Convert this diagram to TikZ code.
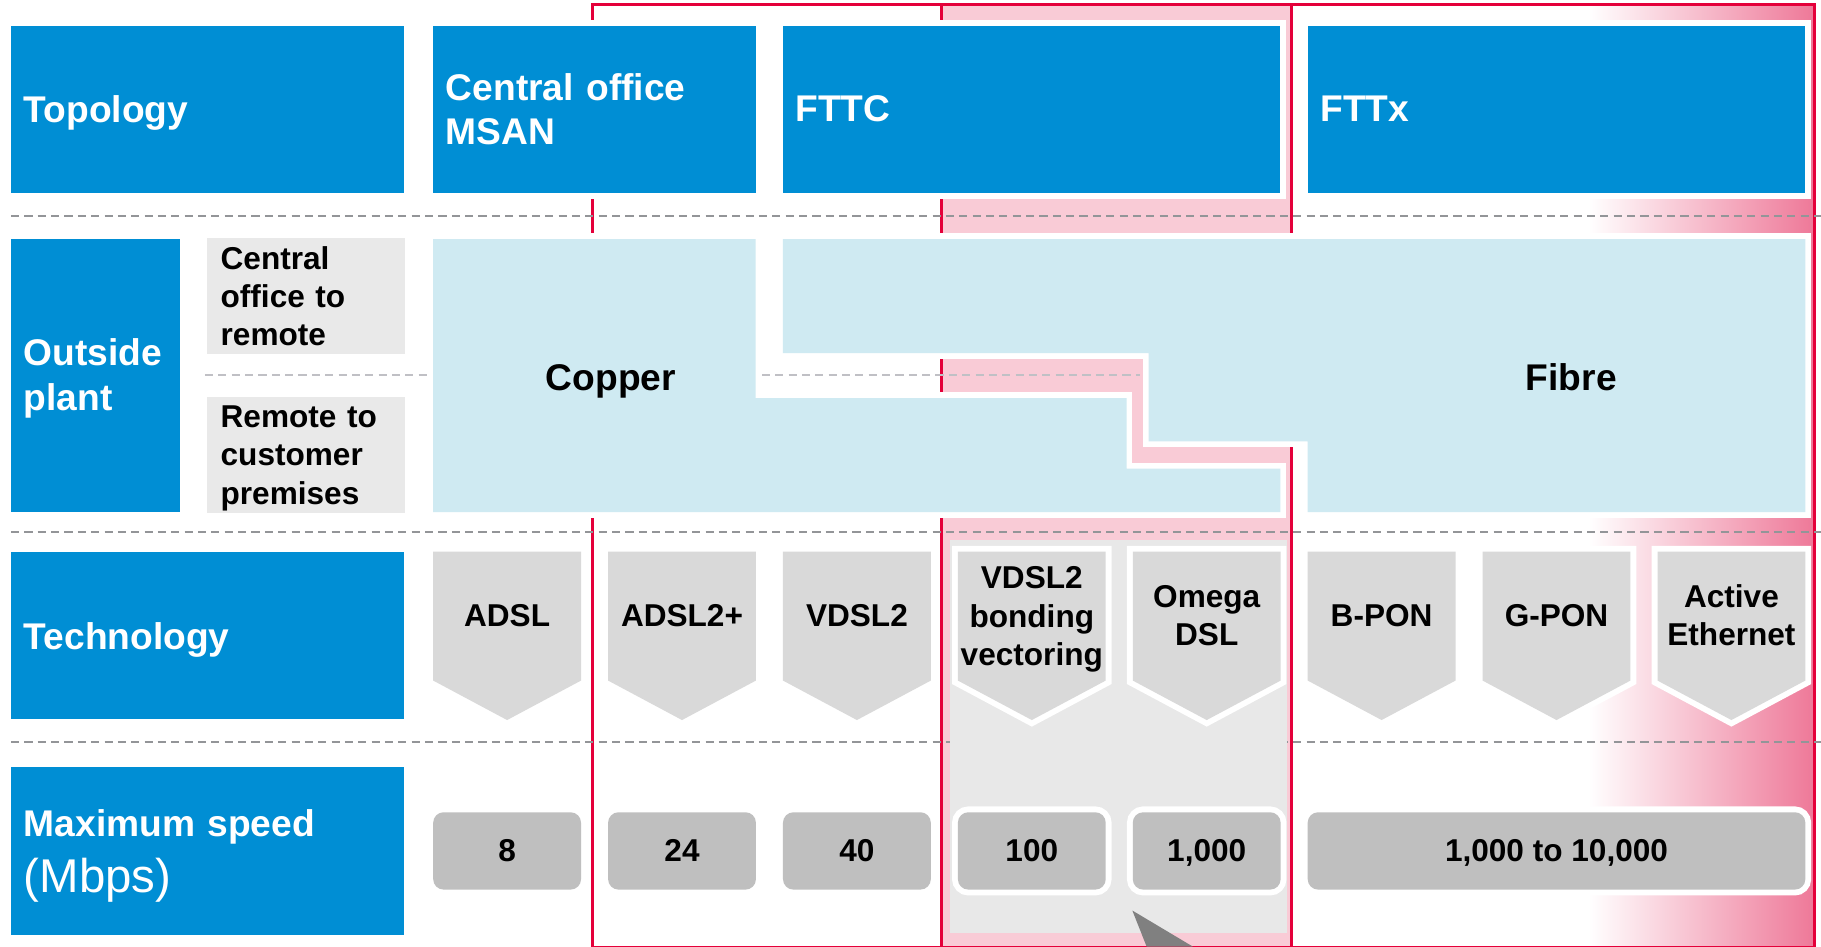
\documentclass[tikz,border=0pt]{standalone}
\usepackage{fontspec}
\setmainfont{Liberation Sans}
\usepackage{tikz}
\usepackage{xcolor}
\definecolor{hdrblue}{RGB}{0,142,212}
\definecolor{plantblue}{RGB}{207,234,242}
\definecolor{chevgray}{RGB}{217,217,217}
\definecolor{speedgray}{RGB}{191,191,191}
\definecolor{subgray}{RGB}{233,233,233}
\definecolor{zonegray}{RGB}{232,232,232}
\definecolor{zonepink}{RGB}{249,203,214}
\definecolor{deeppink}{RGB}{238,120,152}
\definecolor{zonered}{RGB}{228,0,58}
\definecolor{rulegray}{RGB}{147,149,152}
\definecolor{lightrule}{RGB}{192,192,197}
\definecolor{pointergray}{RGB}{128,128,128}

\begin{document}
\begin{tikzpicture}[x=0.5pt,y=-0.5pt,
    halo/.style={preaction={draw=white,line width=5pt}},
    catbox/.style={halo,fill=hdrblue,text=white,font=\bfseries\fontsize{16}{19.2}\selectfont,align=left,inner xsep=5.5pt,inner ysep=0pt,minimum height=72pt},
    subbox/.style={fill=subgray,font=\bfseries\fontsize{13.6}{16.5}\selectfont,align=left,inner xsep=6pt,inner ysep=0pt,text width=73.25pt,minimum height=50pt,text depth=33.2pt},
    plant/.style={halo,fill=plantblue},
    plantlbl/.style={font=\bfseries\fontsize{16}{19.2}\selectfont},
    chev/.style={halo,fill=chevgray},
    techlbl/.style={font=\bfseries\fontsize{13.6}{16.5}\selectfont,align=center,inner sep=0pt},
    speedbox/.style={halo,fill=speedgray,rounded corners=4.5pt,font=\bfseries\fontsize{13.6}{16.5}\selectfont,minimum width=63.65pt,minimum height=33.3pt,inner sep=0pt,text depth=0pt},
    tier/.style={draw=zonered,line width=1.2pt},
    rowrule/.style={draw=rulegray,line width=0.8pt,dash pattern=on 3.5pt off 2.25pt},
    subrule/.style={rowrule,draw=lightrule}
]
\useasboundingbox[fill=white] (0,0) rectangle (1568,815);
% zones
\fill[white] (510,4) rectangle (811,816);
\fill[zonepink] (811,4) rectangle (1112,816);
\fill[white] (1112,4) rectangle (1368,816);
\shade[left color=white,right color=deeppink] (1368,4) rectangle (1562.5,816);
\draw[tier] (510,4) rectangle (811,816);
\draw[tier] (811,4) rectangle (1112,816);
\draw[tier] (1112,4) rectangle (1562.5,816);
\draw[rowrule] (9.5,186) -- (1568,186);
\draw[rowrule] (9.5,458) -- (1568,458);
\draw[rowrule] (9.5,639) -- (1568,639);
\draw[subrule] (176.5,323) -- (367.5,323);
\draw[subrule] (656,323) -- (982,323);
\fill[zonegray] (818,465) rectangle (1108.5,803.6);
% row labels
\node[catbox,text width=158.25pt,text depth=0pt] (topology) at (178.75,94) {Topology};
\node[catbox,text width=127.85pt] (cohdr) at (511.85,94) {Central office\\MSAN};
\node[catbox,text width=203.2pt] (fttchdr) at (888.2,94) {FTTC};
\node[catbox,text width=203.25pt] (fttxhdr) at (1340.25,94) {FTTx};
\node[catbox,text width=61.75pt,minimum height=117.5pt,text depth=20.2pt] (outplant) at (82.25,323.5) {Outside\\plant};
\node[subbox] (co2remote) at (263.25,255) {Central\\office to\\remote};
\node[subbox] (remote2cust) at (263.25,392) {Remote to\\customer\\premises};
\node[catbox,text width=158.25pt,text depth=0pt] (technology) at (178.75,547.5) {Technology};
\node[catbox,text width=158.25pt,minimum height=72.25pt,text depth=24pt] (maxspeed) at (178.75,732.75) {Maximum speed\\[4.7pt]\fontsize{20.4}{23.7}\selectfont\mdseries (Mbps)};
% outside plant
\path[plant] (373,206) -- (650.7,206) -- (650.7,342.7) -- (970,342.7) -- (970,403.5) -- (1102.4,403.5) -- (1102.4,441) -- (373,441) -- cycle;
\path[plant] (674,206) -- (1554.5,206) -- (1554.5,441) -- (1126,441) -- (1126,380) -- (989,380) -- (989,304) -- (674,304) -- cycle;
\node[plantlbl] (copper) at (526,328.5) {Copper};
\node[plantlbl] (fibre) at (1353,325) {Fibre};
% technology
\path[chev] (373,475) -- ++(127.3,0) -- ++(0,111) -- ++(-63.65,34) -- ++(-63.65,-34) -- cycle;
\path[chev] (523.6,475) -- ++(127.3,0) -- ++(0,111) -- ++(-63.65,34) -- ++(-63.65,-34) -- cycle;
\path[chev] (674.2,475) -- ++(127.3,0) -- ++(0,111) -- ++(-63.65,34) -- ++(-63.65,-34) -- cycle;
\path[chev] (824.8,475) -- ++(127.3,0) -- ++(0,111) -- ++(-63.65,34) -- ++(-63.65,-34) -- cycle;
\path[chev] (975.4,475) -- ++(127.3,0) -- ++(0,111) -- ++(-63.65,34) -- ++(-63.65,-34) -- cycle;
\path[chev] (1126,475) -- ++(127.3,0) -- ++(0,111) -- ++(-63.65,34) -- ++(-63.65,-34) -- cycle;
\path[chev] (1276.6,475) -- ++(127.3,0) -- ++(0,111) -- ++(-63.65,34) -- ++(-63.65,-34) -- cycle;
\path[chev] (1427.2,475) -- ++(127.3,0) -- ++(0,111) -- ++(-63.65,34) -- ++(-63.65,-34) -- cycle;
\node[techlbl] (adsl) at (436.65,530) {ADSL};
\node[techlbl] (adslplus) at (587.25,530) {ADSL2+};
\node[techlbl] (vdsl) at (737.85,530) {VDSL2};
\node[techlbl] (vdslbond) at (888.45,533.5) {VDSL2\\bonding\\vectoring};
\node[techlbl] (omega) at (1039.05,530) {Omega\\DSL};
\node[techlbl] (bpon) at (1189.65,530) {B-PON};
\node[techlbl] (gpon) at (1340.25,530) {G-PON};
\node[techlbl] (activeeth) at (1490.85,530) {Active\\Ethernet};
% speeds
\node[speedbox] (sp8) at (436.65,732.7) {8};
\node[speedbox] (sp24) at (587.25,732.7) {24};
\node[speedbox] (sp40) at (737.85,732.7) {40};
\node[speedbox] (sp100) at (888.45,732.7) {100};
\node[speedbox] (sp1000) at (1039.05,732.7) {1,000};
\node[speedbox,minimum width=214.25pt] (spfibre) at (1340.25,732.7) {1,000 to 10,000};
\fill[pointergray] (975,784) -- (1027,815) -- (987.3,815) -- cycle;
\end{tikzpicture}
\end{document}
